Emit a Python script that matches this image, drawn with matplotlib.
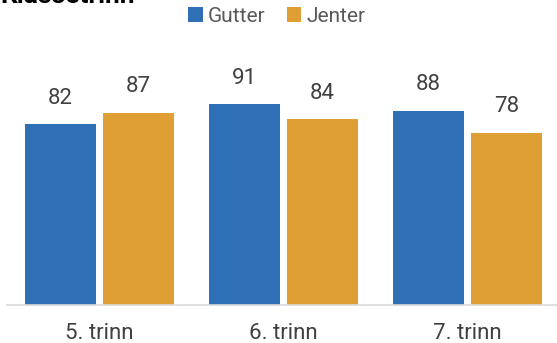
import numpy as np
import matplotlib.pyplot as plt

plt.rcParams['font.family'] = ['Roboto', 'DejaVu Sans']

categories = ['5. trinn', '6. trinn', '7. trinn']
gutter = [82, 91, 88]
jenter = [87, 84, 78]
series_names = ['Gutter', 'Jenter']

blue = '#2e6fb6'
orange = '#e09f35'
text_col = '#404040'

fig = plt.figure(figsize=(5.57, 3.43), dpi=100)
ax = fig.add_axes([7/557, 38/343, 550/557, 221/343])

x = np.arange(len(categories))
w = 0.386
off = 0.212
b1 = ax.bar(x - off, gutter, w, color=blue, label=series_names[0])
b2 = ax.bar(x + off, jenter, w, color=orange, label=series_names[1])

for bars, vals in ((b1, gutter), (b2, jenter)):
    for rect, v in zip(bars, vals):
        ax.annotate(str(v), (rect.get_x() + rect.get_width() / 2, v),
                    xytext=(0, 11), textcoords='offset points',
                    ha='center', va='bottom', fontsize=16, color=text_col,
                    annotation_clip=False)

ax.set_xlim(-0.503, 2.486)
ax.set_ylim(0, 100)
ax.set_xticks(x)
ax.set_xticklabels(categories, fontsize=16, color=text_col)
ax.tick_params(axis='x', length=0, pad=13)
ax.set_yticks([])
for s in ['top', 'right', 'left']:
    ax.spines[s].set_visible(False)
ax.spines['bottom'].set_color('#d9d9d9')
ax.spines['bottom'].set_linewidth(1.2)

fig.legend(loc='upper center', bbox_to_anchor=(0.497, 1.035), ncol=2,
           frameon=False, fontsize=15, handlelength=0.7, handleheight=0.7,
           handletextpad=0.25, columnspacing=1.0, labelcolor='#595959')

fig.text(0.0, 1 - 3/343, 'Klassetrinn', fontsize=19, fontweight='bold',
         ha='left', va='baseline', color='black')

fig.savefig('out.png', dpi=100)
